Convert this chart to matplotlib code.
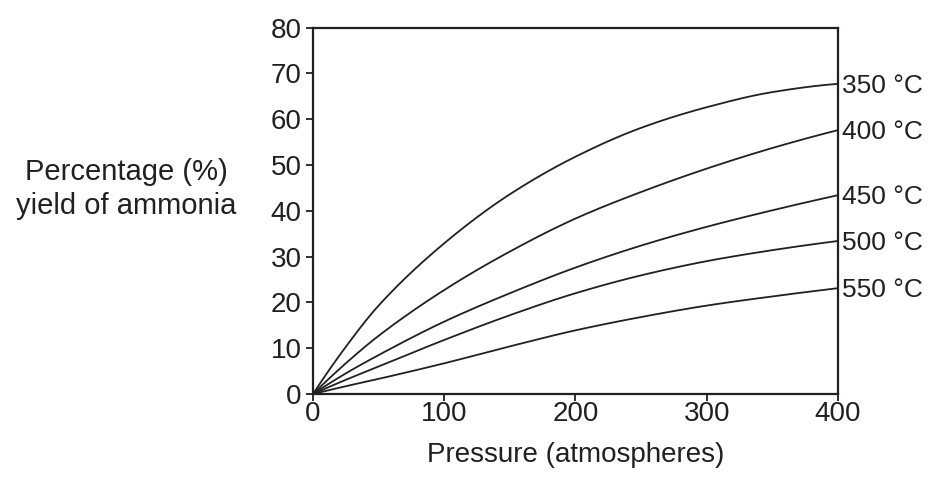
import matplotlib
matplotlib.use("Agg")
import matplotlib.pyplot as plt
import matplotlib.transforms as mtransforms
import numpy as np

plt.rcParams['font.family'] = ['Liberation Sans', 'DejaVu Sans']

pressure = [0, 25, 50, 100, 150, 200, 250, 300, 350, 400]
yield_350 = [0, 10.3, 19.3, 32.9, 43.6, 51.8, 58.1, 62.6, 65.9, 67.7]
yield_400 = [0, 6.7, 12.7, 22.7, 31.1, 38.3, 44.1, 49.2, 53.7, 57.6]
yield_450 = [0, 4.5, 8.5, 15.8, 22.0, 27.6, 32.4, 36.5, 40.1, 43.4]
yield_500 = [0, 3.1, 6.0, 11.8, 17.2, 22.0, 25.9, 29.0, 31.4, 33.4]
yield_550 = [0, 1.7, 3.3, 6.7, 10.4, 13.9, 16.8, 19.3, 21.3, 23.1]
labels = ["350 °C", "400 °C", "450 °C", "500 °C", "550 °C"]
series = [yield_350, yield_400, yield_450, yield_500, yield_550]
xticks = [0, 100, 200, 300, 400]
yticks = [0, 10, 20, 30, 40, 50, 60, 70, 80]


def smooth(x, y, n=300):
    """Monotone cubic (PCHIP) rendering of the read points."""
    x = np.asarray(x, float)
    y = np.asarray(y, float)
    h = np.diff(x)
    d = np.diff(y) / h
    m = np.zeros_like(y)
    for k in range(1, len(x) - 1):
        if d[k - 1] * d[k] > 0:
            w1 = 2 * h[k] + h[k - 1]
            w2 = h[k] + 2 * h[k - 1]
            m[k] = (w1 + w2) / (w1 / d[k - 1] + w2 / d[k])
    m[0] = ((2 * h[0] + h[1]) * d[0] - h[0] * d[1]) / (h[0] + h[1])
    m[-1] = ((2 * h[-1] + h[-2]) * d[-1] - h[-1] * d[-2]) / (h[-1] + h[-2])
    xs = np.linspace(x[0], x[-1], n)
    idx = np.clip(np.searchsorted(x, xs) - 1, 0, len(x) - 2)
    t = (xs - x[idx]) / h[idx]
    h00 = 2 * t**3 - 3 * t**2 + 1
    h10 = t**3 - 2 * t**2 + t
    h01 = -2 * t**3 + 3 * t**2
    h11 = t**3 - t**2
    ys = h00 * y[idx] + h10 * h[idx] * m[idx] + h01 * y[idx + 1] + h11 * h[idx] * m[idx + 1]
    return xs, ys


ink = '#231f20'
fig = plt.figure(figsize=(9.34, 4.86), dpi=100)
ax = fig.add_axes([0.3351, 0.1893, 0.5621, 0.7541])

lab_tr = ax.get_yaxis_transform() + mtransforms.ScaledTranslation(0, -2 / 100, fig.dpi_scale_trans)
for ys, lab in zip(series, labels):
    sx, sy = smooth(pressure, ys)
    ax.plot(sx, sy, color=ink, lw=1.3)
    ax.text(1.007, ys[-1], lab, transform=lab_tr,
            ha='left', va='center', fontsize=19, color=ink)

ax.set_xlim(0, 400)
ax.set_ylim(0, 80)
ax.set_xticks(xticks)
ax.set_yticks(yticks)
for s in ax.spines.values():
    s.set_linewidth(1.6)
    s.set_color(ink)
ax.tick_params(direction='out', length=5, width=1.3, labelsize=20, colors=ink)
ax.tick_params(axis='x', pad=0)
ax.tick_params(axis='y', pad=3)
ax.set_xlabel("Pressure (atmospheres)", fontsize=20, color=ink, labelpad=11)
fig.text(126 / 934, 1 - 189 / 486, "Percentage (%)\nyield of ammonia",
         ha='center', va='center', fontsize=21, color=ink, linespacing=1.3)

fig.savefig("out.png", dpi=100)
